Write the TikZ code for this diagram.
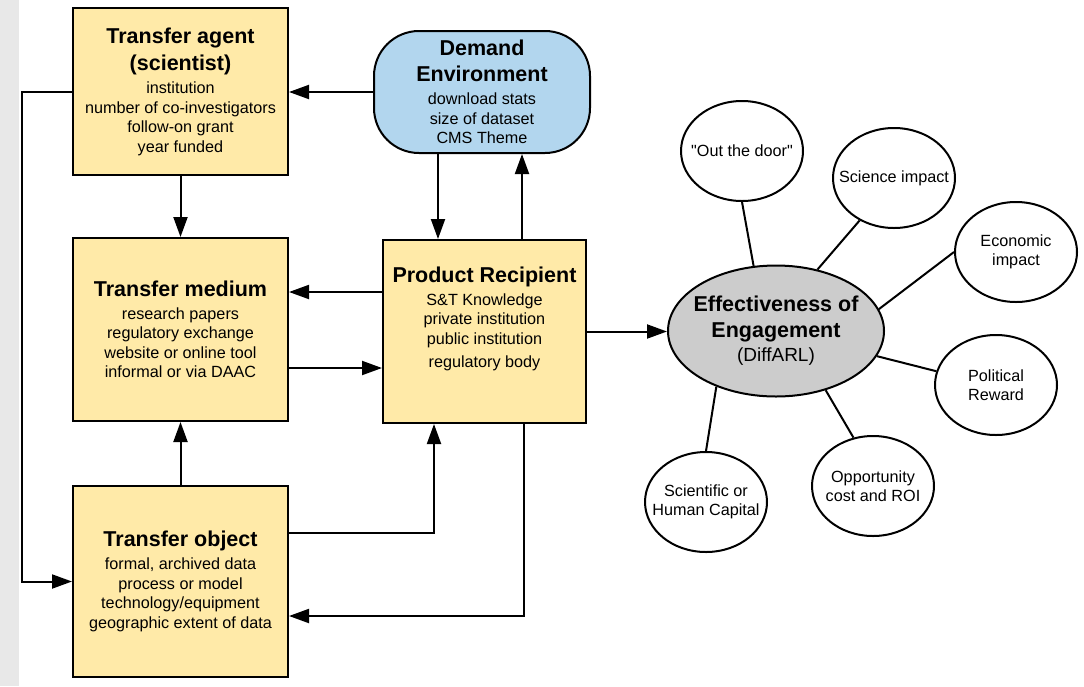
\documentclass[tikz,border=0pt]{standalone}
\usepackage{fontspec}
\setmainfont{Liberation Sans}
\newfontfamily\qfont{Liberation Sans}
\usetikzlibrary{arrows.meta,positioning,shapes.geometric}
\definecolor{boxyellow}{RGB}{255,234,168}
\definecolor{envblue}{RGB}{178,214,238}
\definecolor{effgray}{RGB}{204,204,204}
\definecolor{stripgray}{RGB}{232,232,232}
\newcommand{\hd}[1]{{\bfseries\fontsize{21.5}{26}\selectfont #1}}

\begin{document}
\begin{tikzpicture}[x=1pt,y=-1pt,
        box/.style={
            draw, line width=2pt, fill=boxyellow,
            align=center, inner sep=0pt,
            font=\fontsize{16.2}{19.5}\selectfont
        },
        bubble/.style={
            draw, ellipse, line width=2pt, fill=white,
            minimum width=122pt, minimum height=100pt,
            align=center, inner xsep=-18pt, inner ysep=0pt,
            font=\fontsize{16.2}{19.5}\selectfont
        },
        arr/.style={line width=2pt, -{Triangle[length=20pt,width=14pt]}},
        spoke/.style={line width=2pt}
      ]

  \useasboundingbox (0,0) rectangle (1084,686);
  \fill[white] (0,0) rectangle (1084,686);
  \fill[stripgray] (0,0) rectangle (19,686);

  \node   (agent) at (180.5,91.5) [box,minimum width=215pt,minimum height=167pt] {\hd{Transfer agent}\\[6.5pt]\hd{(scientist)}\\[3.5pt]institution\\number of co-investigators\\follow-on grant\\year funded};
  \node   (medium) [below=61pt of agent,box,minimum width=215pt,minimum height=183pt] {\hd{Transfer medium}\\[3.5pt]research papers\\regulatory exchange\\website or online tool\\informal or via DAAC};
  \node   (object) [below=63pt of medium,box,minimum width=215pt,minimum height=191pt] {\hd{Transfer object}\\[3.5pt]formal, archived data\\process or model\\technology/equipment\\geographic extent of data};

  \node   (pr) at (484.5,331.5) [box,minimum width=203pt,minimum height=183pt,text depth=29pt] {\hd{Product Recipient}\\[3.5pt]S\&T Knowledge\\private institution\\public institution\\[3.5pt]regulatory body};
  \node   (demand) at (482,92) [box,fill=envblue,rounded corners=45pt,minimum width=216pt,minimum height=122pt] {\hd{Demand}\\[6.5pt]\hd{Environment}\\[3.5pt]download stats\\size of dataset\\CMS Theme};

  \node   (eff) at (776,331) [bubble,fill=effgray,minimum width=216pt,minimum height=131pt,inner xsep=-10pt] {\hd{Effectiveness of}\\[6.5pt]\hd{Engagement}\\[4.5pt]{\fontsize{19}{19.5}\selectfont(DiffARL)}};

  \node   (door) at (742,151) [bubble] {{\qfont"Out the door"}};
  \node   (sci) at (894,178) [bubble] {Science impact};
  \node   (econ) at (1016,252) [bubble] {Economic\\impact};
  \node   (pol) at (996,385) [bubble] {Political\\Reward};
  \node   (opp) at (873,486) [bubble] {Opportunity\\cost and ROI};
  \node   (hum) at (706,502) [bubble] {Scientific or\\Human Capital};

  \draw[arr] (demand.west) -- (demand.west -| agent.east);
  \draw[arr] (agent) -- (medium);
  \draw[arr] (agent.west) -- ++(-50,0) |- (object.west);
  \draw[arr] (object) -- (medium);
  \draw[arr] ([yshift=48.5pt]object.east) -| ([xshift=-50.5pt]pr.south);
  \draw[arr] ([xshift=39.5pt]pr.south) |- ([yshift=-34.5pt]object.east);
  \draw[arr] ([xshift=-44pt]demand.south) -- ([xshift=-44pt]demand.south |- pr.north);
  \draw[arr] ([xshift=40pt]demand.south |- pr.north) -- ([xshift=40pt]demand.south);
  \draw[arr] ([yshift=39.5pt]pr.west) -- ([yshift=39.5pt]pr.west -| medium.east);
  \draw[arr] ([yshift=-36.5pt]pr.west -| medium.east) -- ([yshift=-36.5pt]pr.west);
  \draw[arr] (pr.east) -- (pr.east -| eff.west);

  \draw[spoke] (eff.109) -- (door.south);
  \draw[spoke] (eff.56) -- (sci.-129);
  \draw[spoke] (eff.12) -- (econ.west);
  \draw[spoke] (eff.-14) -- (pol.167);
  \draw[spoke] (eff.-50) -- (opp.112);
  \draw[spoke] (eff.-137) -- (hum.north);

\end{tikzpicture}
\end{document}
